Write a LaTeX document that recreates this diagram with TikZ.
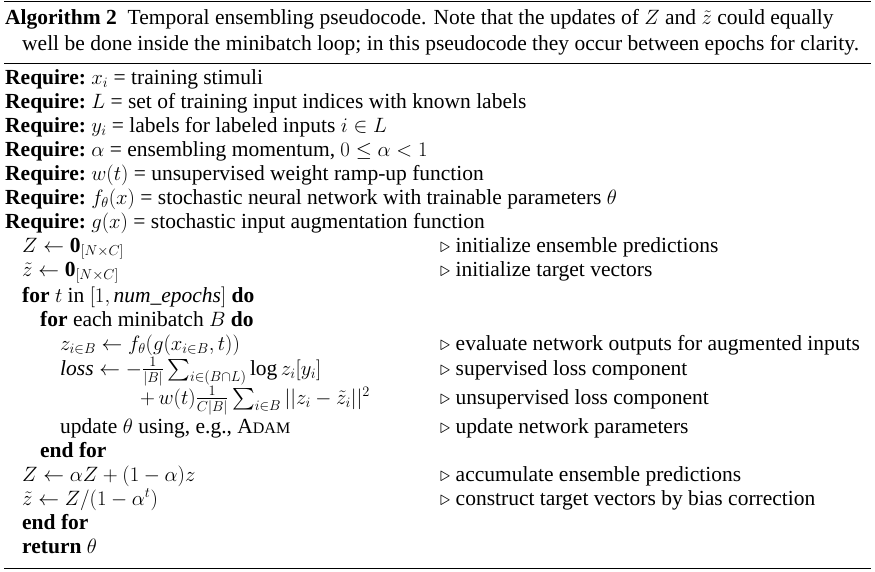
\documentclass[tikz,border=0pt]{standalone}
\usepackage{amsmath,amssymb}
\usepackage{fontspec}
\setmainfont{Liberation Serif}
\begin{document}
\begin{tikzpicture}[x=1pt,y=-1pt,every node/.style={anchor=base west,inner sep=0pt,font=\fontsize{21.5}{24}\selectfont}]
\useasboundingbox (0,0) rectangle (875,571);
\tikzset{rule/.style={line width=1.3pt}}
\draw[rule] (4,1.5) -- (871,1.5);
\draw[line width=0.8pt] (4,63) -- (871,63);
\draw[rule] (4,568.5) -- (871,568.5);
\newcommand{\cm}{$\triangleright$\ }
\node (c1) at (5,24) {\textbf{Algorithm 2}\enspace Temporal ensembling pseudocode. Note that the updates of $Z$ and $\tilde z$ could equally};
\node (c2) at (22,50) {well be done inside the minibatch loop; in this pseudocode they occur between epochs for clarity.};
\node (r1) at (5,84) {\textbf{Require:}~$x_i$ = training stimuli};
\node (r2) at (5,108) {\textbf{Require:}~$L$ = set of training input indices with known labels};
\node (r3) at (5,132) {\textbf{Require:}~$y_i$ = labels for labeled inputs $i\in L$};
\node (r4) at (5,156) {\textbf{Require:}~$\alpha$ = ensembling momentum, $0\le\alpha<1$};
\node (r5) at (5,180) {\textbf{Require:}~$w(t)$ = unsupervised weight ramp-up function};
\node (r6) at (5,204) {\textbf{Require:}~$f_\theta(x)$ = stochastic neural network with trainable parameters $\theta$};
\node (r7) at (5,228) {\textbf{Require:}~$g(x)$ = stochastic input augmentation function};
\node (l1) at (22,252) {$Z\leftarrow \mathbf{0}_{[N\times C]}$};
\node (l2) at (22,276) {$\tilde z\leftarrow \mathbf{0}_{[N\times C]}$};
\node (l3) at (22,302) {\textbf{for} $t$ in $[1, \mathit{num\_epochs}]$ \textbf{do}};
\node (l4) at (40,326) {\textbf{for} each minibatch $B$ \textbf{do}};
\node (l5) at (60,350) {$z_{i\in B}\leftarrow f_\theta(g(x_{i\in B},t))$};
\node (l6) at (60,375) {$\mathit{loss}\leftarrow -\frac{1}{|B|}\sum_{i\in(B\cap L)}\log z_i[y_i]$};
\node (l7) at (140,404) {$+\,w(t)\frac{1}{C|B|}\sum_{i\in B}||z_i-\tilde z_i||^2$};
\node (l8) at (60,433) {update $\theta$ using, e.g., A{\fontsize{16}{18}\selectfont DAM}};
\node (l9) at (40,457) {\textbf{end for}};
\node (l10) at (22,481) {$Z\leftarrow \alpha Z+(1-\alpha)z$};
\node (l11) at (22,505) {$\tilde z\leftarrow Z/(1-\alpha^t)$};
\node (l12) at (22,529) {\textbf{end for}};
\node (l13) at (22,553) {\textbf{return} $\theta$};
\node (k1) at (440,252) {\cm initialize ensemble predictions};
\node (k2) at (440,276) {\cm initialize target vectors};
\node (k5) at (440,350) {\cm evaluate network outputs for augmented inputs};
\node (k6) at (440,375) {\cm supervised loss component};
\node (k7) at (440,404) {\cm unsupervised loss component};
\node (k8) at (440,433) {\cm update network parameters};
\node (k10) at (440,481) {\cm accumulate ensemble predictions};
\node (k11) at (440,505) {\cm construct target vectors by bias correction};
\end{tikzpicture}
\end{document}
